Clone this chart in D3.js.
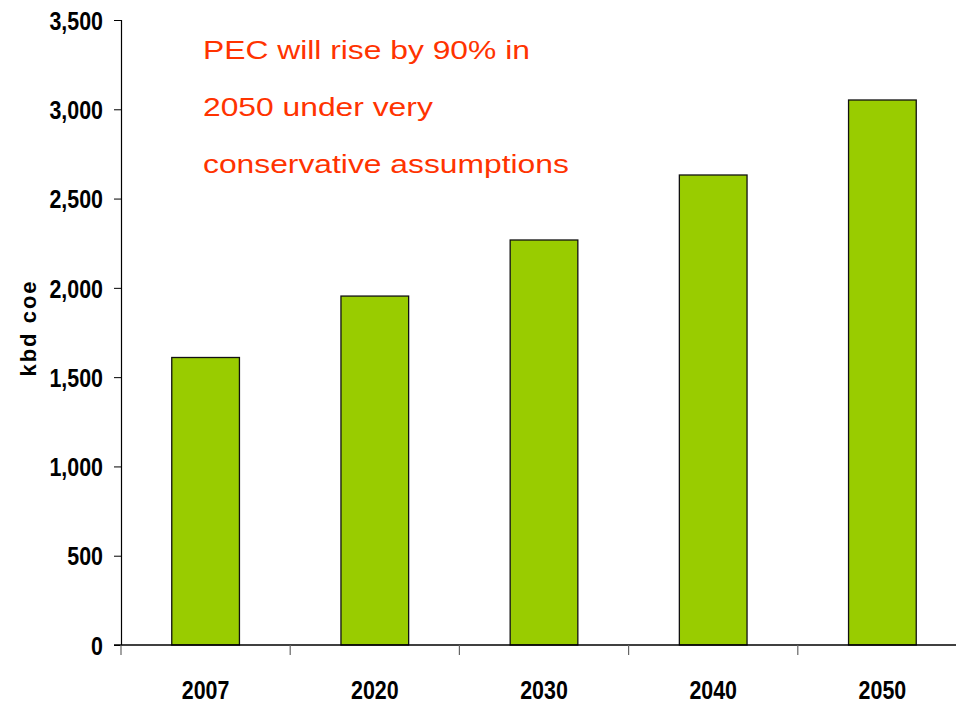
<!DOCTYPE html>
<html>
<head>
<meta charset="utf-8">
<script src="https://cdn.jsdelivr.net/npm/d3@7"></script>
<style>
body{margin:0;background:#fff}
.tk{font-family:"Liberation Sans",Arial,sans-serif;font-weight:bold;font-size:25.5px;fill:#000}
</style>
</head>
<body>
<script>
// data
var years = ["2007","2020","2030","2040","2050"]
var pec = [1610,1954,2268,2632,3052]
var yTicks = [0,500,1000,1500,2000,2500,3000,3500]
var note = ["PEC will rise by 90% in","2050 under very","conservative assumptions"]

var width=956, height=703
var left=121, top_=20, bottom=645, right=967
var sq=0.84   // labels are a narrow face, squeeze them

var svg=d3.select("body").append("svg")
	.attr("width",width)
	.attr("height",height)

var scaleX=d3.scaleBand().domain(years).range([left,right]).paddingInner(0).paddingOuter(0)
var scaleY=d3.scaleLinear().domain([0,3500]).range([bottom,top_])

// bars
var bw=scaleX.bandwidth()*0.4
svg.append("g").selectAll("rect")
	.data(years)
	.enter()
	.append("rect")
		.attr("x",function(d){return scaleX(d)+scaleX.bandwidth()/2-bw/2})
		.attr("y",function(d,i){return scaleY(pec[i])})
		.attr("width",bw)
		.attr("height",function(d,i){return scaleY(0)-scaleY(pec[i])})
		.attr("fill","#99cc00")
		.attr("stroke","#111")
		.attr("stroke-width",1.3)

// y axis
var yAxis=d3.axisLeft(scaleY).tickValues(yTicks).tickSize(7).tickPadding(11).tickFormat(d3.format(","))
var gy=svg.append("g").attr("transform","translate("+left+",0)").call(yAxis)
gy.select(".domain").attr("stroke","#000").attr("stroke-width",1.2)
gy.selectAll(".tick line").attr("stroke","#000")
gy.selectAll("text").attr("class","tk").attr("dy","0.36em")
	.attr("x",-18/sq).attr("transform","scale("+sq+",1)")

// x axis: line through to the edge, ticks between categories
svg.append("line")
	.attr("x1",left-7).attr("x2",width)
	.attr("y1",bottom).attr("y2",bottom)
	.attr("stroke","#000").attr("stroke-width",1.4)
var bounds=years.map(function(d){return scaleX(d)})
svg.append("g").selectAll("line.xt")
	.data(bounds)
	.enter()
	.append("line")
		.attr("x1",function(d){return d}).attr("x2",function(d){return d})
		.attr("y1",bottom).attr("y2",bottom+10)
		.attr("stroke","#666").attr("stroke-width",1.2)
svg.append("g").selectAll("text")
	.data(years)
	.enter()
	.append("text")
		.attr("class","tk")
		.attr("transform",function(d){return "translate("+(scaleX(d)+scaleX.bandwidth()/2)+",699) scale("+sq+",1)"})
		.attr("text-anchor","middle")
		.text(function(d){return d})

// y title
svg.append("text")
	.attr("transform","translate(36,328) rotate(-90)")
	.attr("text-anchor","middle")
	.style("font-family","'Liberation Sans',Arial,sans-serif")
	.style("font-weight","bold")
	.style("font-size","22px")
	.style("letter-spacing","2px")
	.text("kbd coe")

// annotation
svg.append("g").selectAll("text")
	.data(note)
	.enter()
	.append("text")
		.attr("transform",function(d,i){return "translate(203,"+(59+i*57)+") scale(1.2,1)"})
		.style("font-family","'Liberation Sans',Arial,sans-serif")
		.style("font-size","26.5px")
		.attr("fill","#ff3300")
		.text(function(d){return d})
</script>
</body>
</html>
